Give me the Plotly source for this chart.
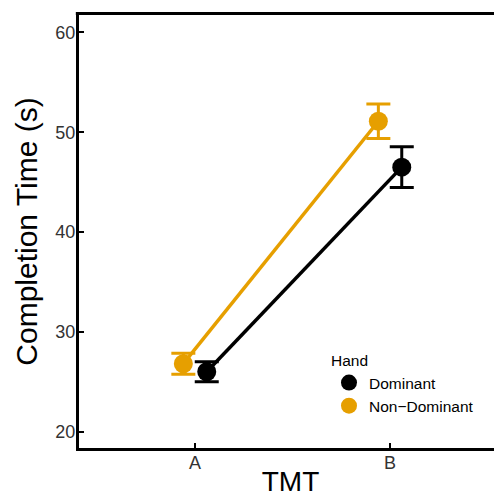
import plotly.graph_objects as go

categories = ["A", "B"]
hands = ["Dominant", "Non\u2212Dominant"]
dominant_mean = [26.0, 46.5]
dominant_err = [1.0, 2.05]
nondominant_mean = [26.8, 51.1]
nondominant_err = [1.05, 1.72]
colors = ["#000000", "#E69F00"]
dodge = [0.06, -0.06]

fig = go.Figure()
series = [(dominant_mean, dominant_err), (nondominant_mean, nondominant_err)]
for (means, errs), name, col, dx in zip(series, hands, colors, dodge):
    xs = [i + dx for i in range(len(categories))]
    fig.add_trace(go.Scatter(x=xs, y=means, mode="lines",
                             line=dict(color=col, width=3.5),
                             showlegend=False, hoverinfo="skip"))
for (means, errs), name, col, dx in zip(series, hands, colors, dodge):
    xs = [i + dx for i in range(len(categories))]
    fig.add_trace(go.Scatter(x=xs, y=means, mode="markers", name=name,
                             marker=dict(color=col, size=19),
                             error_y=dict(type="data", array=errs, visible=True,
                                          color=col, thickness=3, width=12)))

# top border of the panel
fig.add_shape(type="line", xref="paper", yref="paper", x0=-0.0075, x1=1.05,
              y0=1.0035, y1=1.0035, line=dict(color="black", width=3))

fig.update_layout(
    width=494, height=489,
    margin=dict(l=71, r=0, t=7, b=49),
    plot_bgcolor="white", paper_bgcolor="white",
    font=dict(family="Arial, Liberation Sans, sans-serif", color="#000000"),
    legend=dict(title=dict(text="Hand", font=dict(size=15.5)),
                font=dict(size=15.5), x=0.591, y=0.236,
                xanchor="left", yanchor="top",
                bgcolor="rgba(0,0,0,0)", tracegroupgap=0, itemwidth=30),
)
fig.update_xaxes(
    range=[-0.595, 1.574], tickmode="array", tickvals=[0, 1], ticktext=categories,
    showline=True, linecolor="black", linewidth=3, mirror=False, automargin=False,
    ticks="inside", ticklen=5, tickwidth=2, tickcolor="black",
    showgrid=False, zeroline=False, ticklabelstandoff=-4,
    tickfont=dict(size=18, color="#333333"),
    title=dict(text="TMT", font=dict(size=28), standoff=18),
)
fig.update_yaxes(
    range=[18.35, 61.75], tickvals=[20, 30, 40, 50, 60],
    showline=True, linecolor="black", linewidth=3, automargin=False,
    ticks="inside", ticklen=5, tickwidth=2, tickcolor="black",
    showgrid=False, zeroline=False, ticklabelstandoff=-3,
    tickfont=dict(size=18, color="#333333"),
    title=dict(text="Completion Time (s)", font=dict(size=30), standoff=9),
)

fig.write_html("out.html")
